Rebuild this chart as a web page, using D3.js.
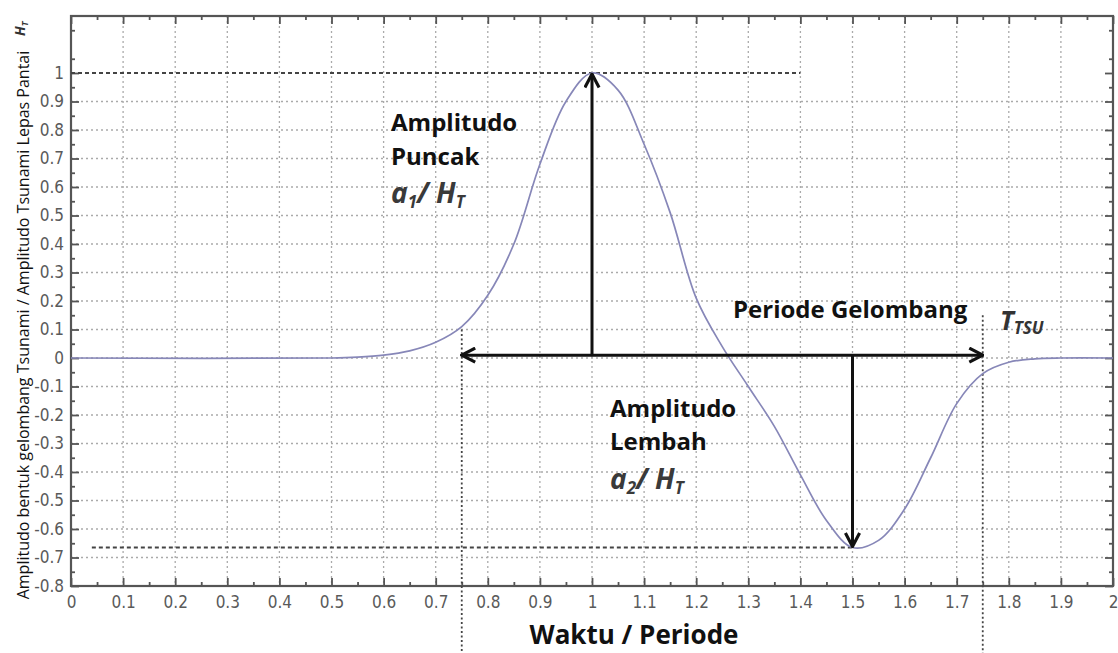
<!DOCTYPE html>
<html>
<head>
<meta charset="utf-8">
<script src="https://cdn.jsdelivr.net/npm/d3@7"></script>
<style>
  body { margin: 0; background: #fff; }
</style>
</head>
<body>
<div id="main"></div>
<script>
// Data
var waktu     = [0, 0.5, 0.55, 0.6, 0.65, 0.7, 0.75, 0.8, 0.85, 0.9, 0.95, 1.0, 1.05, 1.1, 1.15, 1.2, 1.25, 1.3, 1.35, 1.4, 1.45, 1.5, 1.55, 1.6, 1.65, 1.7, 1.75, 1.8, 1.85, 1.9, 2.0];
var amplitudo = [0, 0, 0.003, 0.01, 0.025, 0.055, 0.11, 0.22, 0.40, 0.68, 0.90, 1.0, 0.94, 0.75, 0.51, 0.21, 0.04, -0.10, -0.24, -0.41, -0.57, -0.665, -0.64, -0.53, -0.35, -0.16, -0.055, -0.015, -0.003, 0, 0];

var xTicks = [0, 0.1, 0.2, 0.3, 0.4, 0.5, 0.6, 0.7, 0.8, 0.9, 1, 1.1, 1.2, 1.3, 1.4, 1.5, 1.6, 1.7, 1.8, 1.9, 2];
var xTickLabels = ["0", "0.1", "0.2", "0.3", "0.4", "0.5", "0.6", "0.7", "0.8", "0.9", "1", "1.1", "1.2", "1.3", "1.4", "1.5", "1.6", "1.7", "1.8", "1.9", "2"];
var yTicks = [-0.8, -0.7, -0.6, -0.5, -0.4, -0.3, -0.2, -0.1, 0, 0.1, 0.2, 0.3, 0.4, 0.5, 0.6, 0.7, 0.8, 0.9, 1];
var yTickLabels = ["-0.8", "-0.7", "-0.6", "-0.5", "-0.4", "-0.3", "-0.2", "-0.1", "0", "0.1", "0.2", "0.3", "0.4", "0.5", "0.6", "0.7", "0.8", "0.9", "1"];

var puncak = {x: 1.0, y: 1.0};       // a1 / HT
var lembah = {x: 1.5, y: -0.665};    // a2 / HT
var periode = [0.75, 1.75];          // T_TSU

var width = 1118, height = 653;

const x = d3.scaleLinear([0, 2], [71, 1113]);
const y = d3.scaleLinear([-0.8, 1.2], [586, 16]);

const line = d3.line()
    .curve(d3.curveCatmullRom.alpha(0.5))
    .x((d, i) => x(waktu[i]))
    .y(d => y(d));

function main () {
  const svg = d3.create("svg")
      .attr("width", width)
      .attr("height", height)
      .attr("viewBox", [0, 0, width, height]);

  const defs = svg.append("defs");
  defs.append("marker")
      .attr("id", "panah")
      .attr("viewBox", "0 0 12 12")
      .attr("refX", 11).attr("refY", 6)
      .attr("markerWidth", 17).attr("markerHeight", 17)
      .attr("markerUnits", "userSpaceOnUse")
      .attr("orient", "auto-start-reverse")
    .append("path")
      .attr("d", "M1.5,1 L11,6 L1.5,11")
      .attr("fill", "none")
      .attr("stroke", "#111")
      .attr("stroke-width", 2.2);

  // grille pointillée
  const grid = svg.append("g")
      .attr("stroke", "#aaa")
      .attr("stroke-width", 1.3)
      .attr("stroke-dasharray", "2,3");
  grid.selectAll("line.v")
    .data(xTicks.slice(1, -1))
    .join("line")
      .attr("x1", d => x(d)).attr("x2", d => x(d))
      .attr("y1", y(1.2)).attr("y2", y(-0.8));
  grid.selectAll("line.h")
    .data(yTicks.slice(1, -1))
    .join("line")
      .attr("x1", x(0)).attr("x2", x(2))
      .attr("y1", d => y(d)).attr("y2", d => y(d));

  // axes
  const minorX = d3.range(1, 40, 2).map(i => i * 0.05);
  const minorY = d3.range(-15, 24, 2).map(i => i * 0.05);

  const axisStyle = g => {
    g.select(".domain").remove();
    g.selectAll(".tick line").attr("stroke", "#555").attr("stroke-width", 1.8);
    g.selectAll("text")
      .attr("fill", "#5a5a5a")
      .attr("font-family", "'Liberation Sans Narrow', 'DejaVu Sans Condensed', sans-serif")
      .attr("font-size", 17);
  };

  svg.append("g").attr("transform", `translate(0,${y(-0.8)})`)
      .call(d3.axisBottom(x).tickValues(xTicks).tickSize(-8).tickPadding(10).tickFormat((d, i) => xTickLabels[i]))
      .call(axisStyle);
  svg.append("g").attr("transform", `translate(0,${y(-0.8)})`)
      .call(d3.axisBottom(x).tickValues(minorX).tickSize(-4).tickFormat(""))
      .call(axisStyle);
  svg.append("g").attr("transform", `translate(0,${y(1.2)})`)
      .call(d3.axisTop(x).tickValues(xTicks).tickSize(-8).tickFormat(""))
      .call(axisStyle);
  svg.append("g").attr("transform", `translate(0,${y(1.2)})`)
      .call(d3.axisTop(x).tickValues(minorX).tickSize(-4).tickFormat(""))
      .call(axisStyle);
  svg.append("g").attr("transform", `translate(${x(0)},0)`)
      .call(d3.axisLeft(y).tickValues(yTicks).tickSize(-8).tickPadding(7).tickFormat((d, i) => yTickLabels[i]))
      .call(axisStyle);
  svg.append("g").attr("transform", `translate(${x(0)},0)`)
      .call(d3.axisLeft(y).tickValues(minorY).tickSize(-4).tickFormat(""))
      .call(axisStyle);
  svg.append("g").attr("transform", `translate(${x(2)},0)`)
      .call(d3.axisRight(y).tickValues(yTicks).tickSize(-8).tickFormat(""))
      .call(axisStyle);
  svg.append("g").attr("transform", `translate(${x(2)},0)`)
      .call(d3.axisRight(y).tickValues(minorY).tickSize(-4).tickFormat(""))
      .call(axisStyle);

  svg.append("rect")
      .attr("x", x(0)).attr("y", y(1.2))
      .attr("width", x(2) - x(0)).attr("height", y(-0.8) - y(1.2))
      .attr("fill", "none")
      .attr("stroke", "#555")
      .attr("stroke-width", 2.2);

  // garis putus-putus
  const ref = svg.append("g")
      .attr("stroke", "#444")
      .attr("stroke-width", 2)
      .attr("stroke-dasharray", "4,3");
  ref.append("line")
      .attr("x1", x(0)).attr("x2", x(1.4))
      .attr("y1", y(puncak.y)).attr("y2", y(puncak.y));
  ref.append("line")
      .attr("x1", x(0.04)).attr("x2", x(lembah.x))
      .attr("y1", y(lembah.y)).attr("y2", y(lembah.y));

  svg.append("g")
      .attr("stroke", "#444")
      .attr("stroke-width", 1.8)
      .attr("stroke-dasharray", "2,2.5")
    .selectAll("line")
    .data(periode)
    .join("line")
      .attr("x1", d => x(d)).attr("x2", d => x(d))
      .attr("y1", (d, i) => y(i ? 0.15 : 0.1)).attr("y2", height);

  // kurva
  svg.append("path")
      .datum(amplitudo)
      .attr("fill", "none")
      .attr("stroke", "#8787b8")
      .attr("stroke-width", 1.7)
      .attr("d", line);

  // panah
  const arrows = svg.append("g")
      .attr("stroke", "#111")
      .attr("stroke-width", 3);
  arrows.append("line")
      .attr("x1", x(puncak.x)).attr("x2", x(puncak.x))
      .attr("y1", y(0.01)).attr("y2", y(puncak.y) + 1)
      .attr("marker-end", "url(#panah)");
  arrows.append("line")
      .attr("x1", x(periode[0])).attr("x2", x(periode[1]))
      .attr("y1", y(0.01)).attr("y2", y(0.01))
      .attr("marker-start", "url(#panah)")
      .attr("marker-end", "url(#panah)");
  arrows.append("line")
      .attr("x1", x(lembah.x)).attr("x2", x(lembah.x))
      .attr("y1", y(0.01)).attr("y2", y(lembah.y) - 1)
      .attr("marker-end", "url(#panah)");

  // teks
  const t = svg.append("g")
      .attr("font-family", "'Open Sans', sans-serif")
      .attr("font-weight", "bold")
      .attr("fill", "#111");

  function rasio (g, x0, y0, n) {
    const r = g.append("text").attr("x", x0).attr("y", y0).attr("font-size", 28)
        .attr("font-style", "italic").attr("fill", "#3a3a3a");
    r.append("tspan").text("a");
    r.append("tspan").attr("font-size", 17).attr("dy", 5).text(n);
    r.append("tspan").attr("dy", -5).text("/ H");
    r.append("tspan").attr("font-size", 17).attr("dy", 5).text("T");
  }

  t.append("text").attr("x", 391).attr("y", 131).attr("font-size", 24).text("Amplitudo");
  t.append("text").attr("x", 391).attr("y", 165).attr("font-size", 24).text("Puncak");
  rasio(t, 391, 203, "1");

  t.append("text").attr("x", 610).attr("y", 417).attr("font-size", 24).text("Amplitudo");
  t.append("text").attr("x", 610).attr("y", 450).attr("font-size", 24).text("Lembah");
  rasio(t, 610, 489, "2");

  t.append("text").attr("x", 733).attr("y", 318).attr("font-size", 24).text("Periode Gelombang");

  const tt = t.append("text").attr("x", 1000).attr("y", 330).attr("font-size", 26)
      .attr("font-style", "italic").attr("fill", "#333");
  tt.append("tspan").text("T");
  tt.append("tspan").attr("font-size", 17).attr("dy", 4).text("TSU");

  t.append("text").attr("x", 634).attr("y", 644).attr("font-size", 26)
      .attr("text-anchor", "middle").text("Waktu / Periode");

  t.append("text")
      .attr("transform", "translate(29,325) rotate(-90)")
      .attr("text-anchor", "middle")
      .attr("font-weight", "normal")
      .attr("font-size", 16)
      .text("Amplitudo bentuk gelombang Tsunami / Amplitudo Tsunami Lepas Pantai");

  const ht = t.append("text")
      .attr("transform", "translate(25,36) rotate(-90)")
      .attr("font-size", 14).attr("font-style", "italic").attr("fill", "#333");
  ht.append("tspan").text("H");
  ht.append("tspan").attr("font-size", 9).attr("dy", 3).text("T");

  return svg.node();
}

document.getElementById("main").appendChild(main());
</script>
</body>
</html>
